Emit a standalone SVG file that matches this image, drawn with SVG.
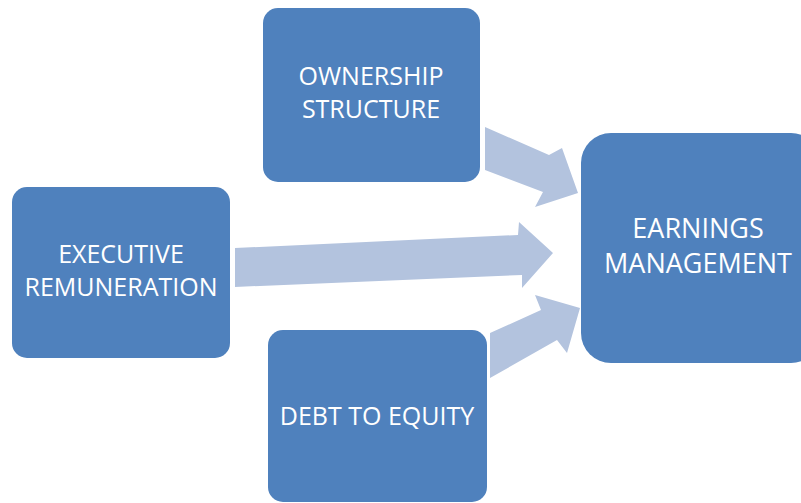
<svg xmlns="http://www.w3.org/2000/svg" width="801" height="503" viewBox="0 0 801 503">
<style>
.box{fill:#4F81BD}
.arrow{fill:#B3C3DE}
text{fill:#FFFFFF;font-family:"Open Sans","Noto Sans",sans-serif;text-anchor:middle}
.s{font-size:25px}
.l{font-size:27px}
</style>
<rect width="801" height="503" fill="#FFFFFF"/>
<g id="connectors">
<polygon class="arrow" points="235,248 518,235 519,222 553,253 522,288 522,275 235,287"/>
<polygon class="arrow" points="485,127 549,155 562,148 578,193 535,207 543,192 485,170"/>
<polygon class="arrow" points="490,333 541,310 535,295 580,308 567,353 557,340 490,378"/>
</g>
<g id="ownership">
<rect class="box" x="263" y="8" width="217" height="174" rx="15"/>
<text class="s" x="371" y="85">OWNERSHIP</text>
<text class="s" x="371" y="118">STRUCTURE</text>
</g>
<g id="executive">
<rect class="box" x="12" y="187" width="218" height="171" rx="15"/>
<text class="s" x="121" y="263">EXECUTIVE</text>
<text class="s" x="121" y="296">REMUNERATION</text>
</g>
<g id="debt">
<rect class="box" x="268" y="330" width="219" height="172" rx="15"/>
<text class="s" x="377" y="425">DEBT TO EQUITY</text>
</g>
<g id="earnings">
<rect class="box" x="581" y="133" width="240" height="230" rx="30"/>
<text class="l" x="698" y="238">EARNINGS</text>
<text class="l" x="698" y="273">MANAGEMENT</text>
</g>
</svg>
